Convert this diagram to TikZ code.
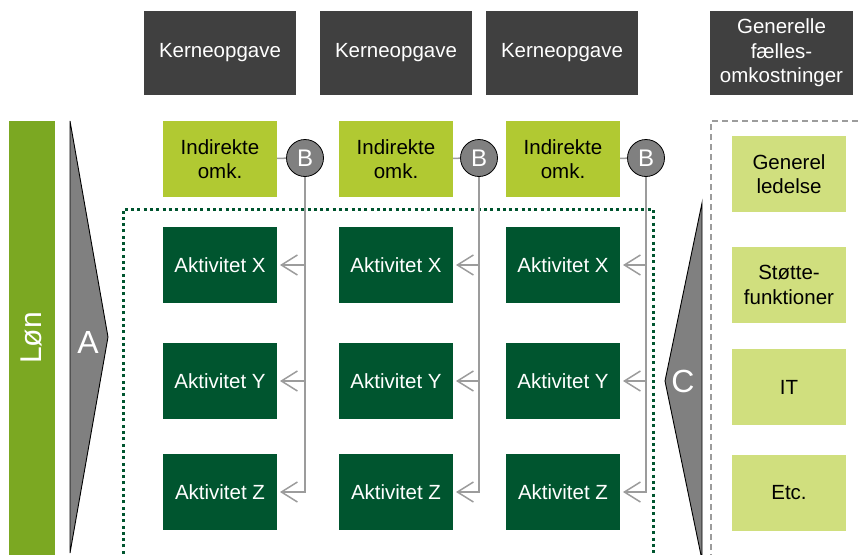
\documentclass[tikz,border=0pt]{standalone}
\usepackage{fontspec}
\setmainfont{Liberation Sans}
\usepackage{tikz}
\usetikzlibrary{arrows.meta,positioning}
\definecolor{hdgray}{HTML}{404040}
\definecolor{longreen}{HTML}{7BA822}
\definecolor{indgreen}{HTML}{B1C932}
\definecolor{aktgreen}{HTML}{00552F}
\definecolor{genlight}{HTML}{D0DF7E}
\definecolor{midgray}{HTML}{808080}
\definecolor{lingray}{HTML}{9C9C9C}
\newcommand{\boxfont}{\fontsize{20.5}{24.5}\selectfont}
\tikzset{
  blk/.style={align=center, inner sep=0pt, outer sep=0pt, font=\boxfont,
    minimum width=114pt, minimum height=76pt},
  kerne/.style={blk, fill=hdgray, text=white, minimum width=152pt, minimum height=84pt},
  ind/.style={blk, fill=indgreen},
  akt/.style={blk, fill=aktgreen, text=white},
  gen/.style={blk, fill=genlight},
  bcirc/.style={circle, draw=black, line width=0.8pt, fill=midgray, text=white,
    minimum size=37pt, inner sep=0pt, font=\fontsize{24}{24}\selectfont},
  tri/.style={draw=black, line width=0.9pt, fill=midgray},
  big/.style={text=white, font=\fontsize{32}{32}\selectfont},
  con/.style={draw=lingray, line width=1.5pt},
  arr/.style={con, -{Straight Barb[length=16pt,width=20pt]}, shorten >=3pt},
}
\begin{document}
\begin{tikzpicture}[x=1pt, y=1pt, node distance=30pt]
\useasboundingbox (0,0) rectangle (858,-554);
\clip (0,0) rectangle (858,-554);
% headers
\node[kerne] (k1) at (220,-53) {Kerneopgave};
\node[kerne] (k2) at (396,-53) {Kerneopgave};
\node[kerne] (k3) at (562,-53) {Kerneopgave};
\node[kerne, minimum width=143pt] (k4) at (781.5,-53) {Generelle\\fælles-\\omkostninger};
% salary bar and allocation wedges
\fill[longreen] (9,-121) rectangle (55,-560);
\node[rotate=90, text=white, font=\fontsize{30}{30}\selectfont] (lon) at (31,-338) {Løn};
\draw[tri] (70,-121) -- (108,-337) -- (70,-553) -- cycle;
\node[big] (la) at (88,-342) {A};
\draw[tri] (702,-203) -- (665,-381) -- (702,-560) -- cycle;
\node[big] (lc) at (683,-381) {C};
% frames
\draw[aktgreen, line width=3pt, dash pattern=on 3pt off 3.3pt] (123,-560) |- (653,-209) -- (653,-560);
\draw[lingray, line width=1.5pt, dash pattern=on 6pt off 4pt] (711,-560) |- (870,-121);
% indirect costs
\node[ind] (i1) at (220,-159) {Indirekte\\omk.};
\node[ind] (i2) at (396,-159) {Indirekte\\omk.};
\node[ind] (i3) at (563,-159) {Indirekte\\omk.};
\node[bcirc] (b1) at (305,-158) {B};
\node[bcirc] (b2) at (479,-158) {B};
\node[bcirc] (b3) at (646,-158) {B};
% activities
\node[akt, below=of i1] (x1) {Aktivitet X};
\node[akt, below=40pt of x1] (y1) {Aktivitet Y};
\node[akt, below=35pt of y1] (z1) {Aktivitet Z};
\node[akt, below=of i2] (x2) {Aktivitet X};
\node[akt, below=40pt of x2] (y2) {Aktivitet Y};
\node[akt, below=35pt of y2] (z2) {Aktivitet Z};
\node[akt, below=of i3] (x3) {Aktivitet X};
\node[akt, below=40pt of x3] (y3) {Aktivitet Y};
\node[akt, below=35pt of y3] (z3) {Aktivitet Z};
% general overheads
\node[gen] (g1) at (789,-174) {Generel\\ledelse};
\node[gen] (g2) at (789,-285) {Støtte-\\funktioner};
\node[gen] (g3) at (789,-387) {IT};
\node[gen] (g4) at (789,-493) {Etc.};
% distribution lines
\draw[con] (i1) -- (b1);
\draw[con] (i2) -- (b2);
\draw[con] (i3) -- (b3);
\draw[arr] (b1) |- (z1);
\draw[arr] (b1 |- x1) -- (x1);
\draw[arr] (b1 |- y1) -- (y1);
\draw[arr] (b2) |- (z2);
\draw[arr] (b2 |- x2) -- (x2);
\draw[arr] (b2 |- y2) -- (y2);
\draw[arr] (b3) |- (z3);
\draw[arr] (b3 |- x3) -- (x3);
\draw[arr] (b3 |- y3) -- (y3);
\end{tikzpicture}
\end{document}
